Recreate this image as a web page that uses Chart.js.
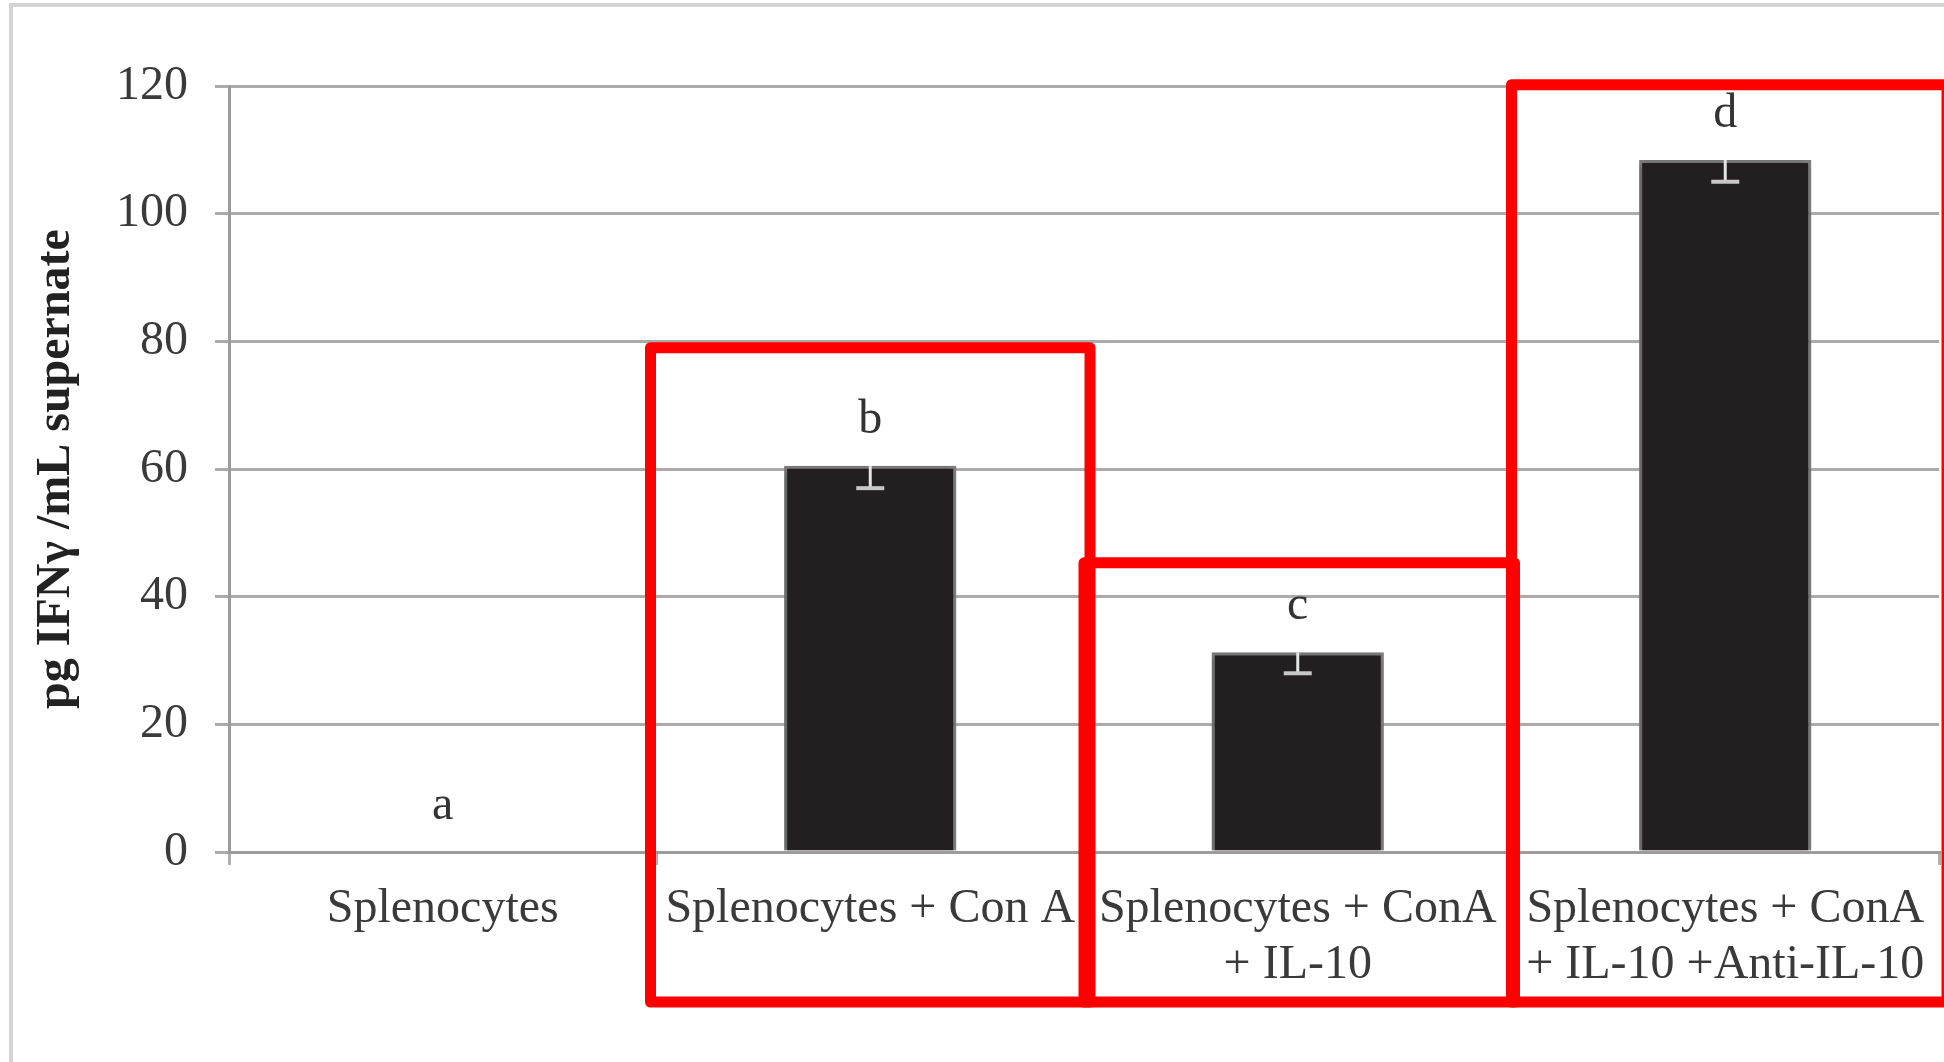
<!DOCTYPE html>
<html>
<head>
<meta charset="utf-8">
<title>IFN-gamma in splenocyte supernates</title>
<script src="https://cdn.jsdelivr.net/npm/chart.js@4.4.1/dist/chart.umd.min.js"></script>
<style>
  html, body { margin: 0; padding: 0; background: #ffffff; }
  #wrap { width: 1944px; height: 1062px; position: relative; }
</style>
</head>
<body>
<div id="wrap"><canvas id="c" width="1944" height="1062"></canvas></div>
<script>
// Treatment groups (x categories)
const categories = [
  'Splenocytes',
  'Splenocytes + Con A',
  ['Splenocytes + ConA', '+ IL-10'],
  ['Splenocytes + ConA', '+ IL-10 +Anti-IL-10']
];
// Mean IFN-gamma (pg/mL supernate) and lower error (SE)
const ifnValues = [0, 60.5, 31.3, 108.4];
const ifnErrors = [0, 3.5, 3.3, 3.4];
// Significance letters above each group
const groupLetters = ['a', 'b', 'c', 'd'];
// Y axis ticks
const yTicks = [0, 20, 40, 60, 80, 100, 120];
// Groups outlined in red, and the value at which each outline's top edge sits
const highlightCats = [1, 2, 3];
const highlightTops = [79, 45.3, 120.2];

const SERIF = "'Liberation Serif', 'Times New Roman', serif";

// Light frame around the whole figure
const framePlugin = {
  id: 'frame',
  beforeDraw(chart) {
    const ctx = chart.ctx;
    ctx.save();
    ctx.fillStyle = '#ffffff';
    ctx.fillRect(0, 0, chart.width, chart.height);
    ctx.strokeStyle = '#d4d4d4';
    ctx.lineWidth = 4;
    ctx.beginPath();
    ctx.moveTo(11, chart.height + 5);
    ctx.lineTo(11, 5);
    ctx.lineTo(chart.width + 5, 5);
    ctx.stroke();
    ctx.restore();
  }
};

// Soft shadow behind the bars
const barShadowPlugin = {
  id: 'barShadow',
  beforeDatasetsDraw(chart) {
    const ctx = chart.ctx;
    ctx.save();
    ctx.shadowColor = 'rgba(0,0,0,0.28)';
    ctx.shadowBlur = 7;
    ctx.shadowOffsetX = -2;
    ctx.shadowOffsetY = 2;
  },
  afterDatasetsDraw(chart) {
    chart.ctx.restore();
  }
};

// Minus error bars and group letters
const annotatePlugin = {
  id: 'annotate',
  afterDatasetsDraw(chart) {
    const ctx = chart.ctx;
    const y = chart.scales.y;
    const meta = chart.getDatasetMeta(0);
    ctx.save();
    meta.data.forEach((bar, i) => {
      const v = ifnValues[i];
      const e = ifnErrors[i];
      if (e > 0) {
        const yTop = y.getPixelForValue(v);
        const yLow = y.getPixelForValue(v - e);
        ctx.strokeStyle = '#e4e4e4';
        ctx.lineWidth = 3;
        ctx.beginPath();
        ctx.moveTo(bar.x, yTop);
        ctx.lineTo(bar.x, yLow);
        ctx.stroke();
        ctx.strokeStyle = '#c8c8c8';
        ctx.lineWidth = 4;
        ctx.beginPath();
        ctx.moveTo(bar.x - 14, yLow);
        ctx.lineTo(bar.x + 14, yLow);
        ctx.stroke();
      }
      ctx.fillStyle = '#333333';
      ctx.font = '48px ' + SERIF;
      ctx.textAlign = 'center';
      ctx.textBaseline = 'alphabetic';
      ctx.fillText(groupLetters[i], bar.x, y.getPixelForValue(v) - 33);
    });
    ctx.restore();
  }
};

// Red outlines around highlighted groups
const highlightPlugin = {
  id: 'highlight',
  afterDraw(chart) {
    const ctx = chart.ctx;
    const x = chart.scales.x;
    const y = chart.scales.y;
    const half = (x.getPixelForValue(1) - x.getPixelForValue(0)) / 2;
    const bottom = chart.chartArea.bottom + 150;
    ctx.save();
    ctx.strokeStyle = '#ff0000';
    ctx.lineWidth = 11;
    ctx.lineJoin = 'round';
    highlightCats.forEach((c, k) => {
      const cx = x.getPixelForValue(c);
      const left = cx - half - (k === 0 ? 6 : 0);
      const right = cx + half + (k === 0 ? 6 : (k === 1 ? 3 : 8));
      const top = y.getPixelForValue(highlightTops[k]);
      ctx.strokeRect(left, top, right - left, bottom - top);
    });
    ctx.restore();
  }
};

new Chart(document.getElementById('c'), {
  type: 'bar',
  data: {
    labels: categories,
    datasets: [{
      label: 'pg IFNγ /mL supernate',
      data: ifnValues,
      backgroundColor: '#231f20',
      borderColor: '#7d7d7d',
      borderWidth: 3,
      categoryPercentage: 1.0,
      barPercentage: 0.403
    }]
  },
  options: {
    responsive: false,
    devicePixelRatio: 1,
    animation: false,
    layout: { padding: { top: 86, right: 5, left: 0, bottom: 0 } },
    plugins: {
      legend: { display: false },
      tooltip: { enabled: false },
      title: { display: false }
    },
    scales: {
      x: {
        offset: true,
        afterFit(s) { s.height = 210; },
        grid: {
          display: true,
          drawOnChartArea: false,
          drawTicks: true,
          tickLength: 13,
          color: '#b0b0b0',
          lineWidth: 3,
          offset: true
        },
        border: { display: true, color: '#9c9c9c', width: 3 },
        ticks: {
          autoSkip: false,
          maxRotation: 0,
          minRotation: 0,
          padding: 16,
          color: '#3a3a3a',
          font: { family: SERIF, size: 48, lineHeight: 1.17 }
        }
      },
      y: {
        min: 0,
        max: 120,
        afterFit(s) { s.width = 229; },
        afterBuildTicks(s) { s.ticks = yTicks.map(v => ({ value: v })); },
        grid: {
          color: '#ababab',
          lineWidth: 3,
          tickLength: 14,
          drawTicks: true
        },
        border: { display: true, color: '#9c9c9c', width: 3 },
        ticks: {
          padding: 27,
          color: '#3a3a3a',
          font: { family: SERIF, size: 48 }
        },
        title: {
          display: true,
          text: 'pg IFNγ /mL supernate',
          color: '#222222',
          padding: { top: 28, bottom: 0 },
          font: { family: SERIF, size: 48, weight: 'bold', lineHeight: 1.2 }
        }
      }
    }
  },
  plugins: [framePlugin, barShadowPlugin, annotatePlugin, highlightPlugin]
});
</script>
</body>
</html>
